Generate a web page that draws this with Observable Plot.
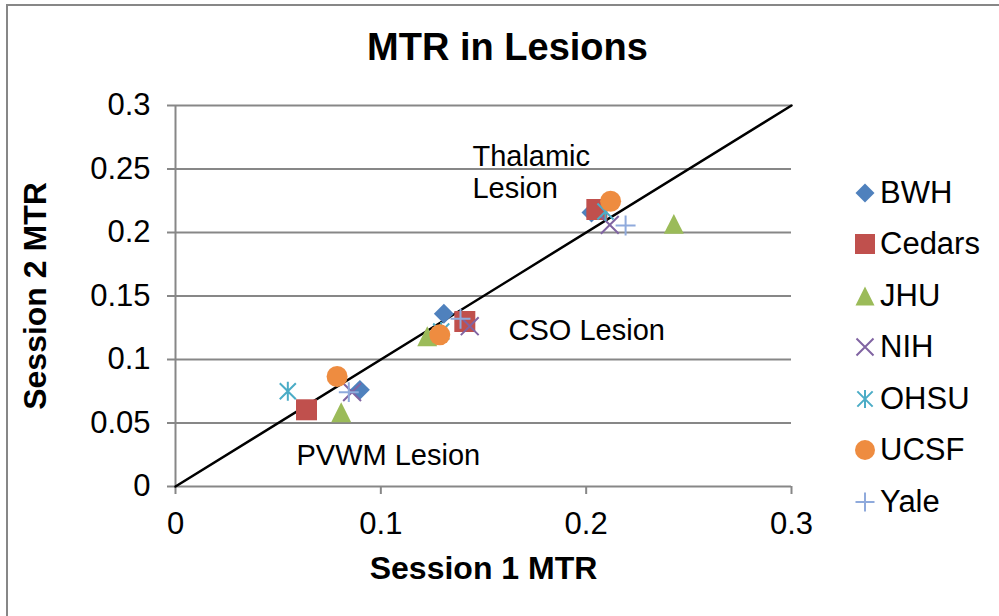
<!DOCTYPE html>
<html>
<head>
<meta charset="utf-8">
<script src="https://cdn.jsdelivr.net/npm/d3@7"></script>
<script src="https://cdn.jsdelivr.net/npm/@observablehq/plot@0.6"></script>
<style>
  html, body { margin: 0; padding: 0; background: #fff; overflow: hidden; }
  #wrap { position: relative; width: 999px; height: 616px; overflow: hidden; font-family: "Liberation Sans", Arial, sans-serif; }
  #frame { position: absolute; left: 6px; top: 4px; width: 1200px; height: 800px; border-top: 2px solid #878787; border-left: 2px solid #878787; }
  #chart { position: absolute; left: 0; top: 0; }
  #legend { position: absolute; left: 853px; top: 167px; }
  .row { display: flex; align-items: center; height: 51.5px; font-size: 31px; color: #000; }
  .row svg { width: 24px; height: 24px; margin-right: 3px; }
</style>
</head>
<body>
<div id="wrap">
  <div id="frame"></div>
  <div id="chart"></div>
  <div id="legend"></div>
</div>
<script>
// ---- Data ----
const sites = ["BWH", "Cedars", "JHU", "NIH", "OHSU", "UCSF", "Yale"];
const lesions = ["PVWM", "CSO", "Thalamic"];
const BWH_s1 = [0.0898, 0.1307, 0.2026];
const BWH_s2 = [0.0761, 0.1360, 0.2157];
const Cedars_s1 = [0.0638, 0.1409, 0.2052];
const Cedars_s2 = [0.0604, 0.1299, 0.2181];
const JHU_s1 = [0.0807, 0.1226, 0.2427];
const JHU_s2 = [0.0585, 0.1183, 0.2068];
const NIH_s1 = [0.0860, 0.1433, 0.2115];
const NIH_s2 = [0.0743, 0.1262, 0.2060];
const OHSU_s1 = [0.0547, 0.1294, 0.2094];
const OHSU_s2 = [0.0750, 0.1220, 0.2165];
const UCSF_s1 = [0.0787, 0.1287, 0.2119];
const UCSF_s2 = [0.0866, 0.1194, 0.2246];
const Yale_s1 = [0.0844, 0.1388, 0.2192];
const Yale_s2 = [0.0743, 0.1320, 0.2055];
const xTicks = [0, 0.1, 0.2, 0.3];
const yTicks = [0, 0.05, 0.1, 0.15, 0.2, 0.25, 0.3];
const identityLine = [0, 0.3];
const annotationText = ["Thalamic\nLesion", "CSO Lesion", "PVWM Lesion"];
const annotationX = [0.1446, 0.1622, 0.0589];
const annotationY = [0.2480, 0.1236, 0.0252];
const colors = ["#4F81BD", "#C0504D", "#9BBB59", "#8064A2", "#4BACC6", "#EE8C40", "#8FAADC"];

// ---- Marker shapes (Excel-like) ----
const diamond = {draw(c, size) { const s = Math.sqrt(size) / 2 * 0.95; c.moveTo(0, -s); c.lineTo(s, 0); c.lineTo(0, s); c.lineTo(-s, 0); c.closePath(); }};
const square = {draw(c, size) { const s = Math.sqrt(size) / 2; c.rect(-s, -s, 2 * s, 2 * s); }};
const triangle = {draw(c, size) { const s = Math.sqrt(size) / 2 * 0.95; c.moveTo(0, -s); c.lineTo(s, s); c.lineTo(-s, s); c.closePath(); }};
const times = {draw(c, size) { const s = Math.sqrt(size) / 2 * 0.85; c.moveTo(-s, -s); c.lineTo(s, s); c.moveTo(-s, s); c.lineTo(s, -s); }};
const asterisk = {draw(c, size) { const s = Math.sqrt(size) / 2 * 0.9; const d = s * 0.85; c.moveTo(0, -s); c.lineTo(0, s); c.moveTo(-d, -d); c.lineTo(d, d); c.moveTo(-d, d); c.lineTo(d, -d); }};
const circle = {draw(c, size) { const s = Math.sqrt(size) / 2; c.moveTo(s, 0); c.arc(0, 0, s, 0, 2 * Math.PI); }};
const plus = {draw(c, size) { const s = Math.sqrt(size) / 2 * 0.95; c.moveTo(-s, 0); c.lineTo(s, 0); c.moveTo(0, -s); c.lineTo(0, s); }};
const symbols = [diamond, square, triangle, times, asterisk, circle, plus];
const filled = [true, true, true, false, false, true, false];

const s1 = [BWH_s1, Cedars_s1, JHU_s1, NIH_s1, OHSU_s1, UCSF_s1, Yale_s1];
const s2 = [BWH_s2, Cedars_s2, JHU_s2, NIH_s2, OHSU_s2, UCSF_s2, Yale_s2];
const R = 21 / Math.sqrt(Math.PI);
const gray = "#878787";

const dotMarks = sites.map((site, i) => {
  const rows = lesions.map((l, j) => ({site, lesion: l, x: s1[i][j], y: s2[i][j]}));
  return filled[i]
    ? Plot.dot(rows, {x: "x", y: "y", symbol: symbols[i], r: R, fill: colors[i], stroke: "none"})
    : Plot.dot(rows, {x: "x", y: "y", symbol: symbols[i], r: R, fill: "none", stroke: colors[i], strokeWidth: 2});
});

const annotations = annotationText.map((t, i) => ({t, x: annotationX[i], y: annotationY[i]}));

const chart = Plot.plot({
  width: 999,
  height: 616,
  marginLeft: 175,
  marginRight: 208,
  marginTop: 105,
  marginBottom: 130,
  x: {domain: [0, 0.3]},
  y: {domain: [0, 0.3]},
  style: {fontFamily: "'Liberation Sans', Arial, sans-serif", fontSize: "31px", color: "#000", background: "transparent", overflow: "visible"},
  marks: [
    Plot.gridY(yTicks.slice(1), {stroke: gray, strokeOpacity: 1, strokeWidth: 2}),
    Plot.ruleX([0], {stroke: gray, strokeWidth: 2}),
    Plot.ruleY([0], {stroke: gray, strokeWidth: 2}),
    Plot.axisY({ticks: yTicks, tickSize: 8, tickPadding: 17, stroke: gray, strokeWidth: 2, fill: "#000", fontSize: 31, label: null, tickFormat: d => String(d)}),
    Plot.axisX({ticks: xTicks, tickSize: 8, tickPadding: 17, stroke: gray, strokeWidth: 2, fill: "#000", fontSize: 31, label: null, tickFormat: d => String(d)}),
    Plot.line(identityLine, {x: d => d, y: d => d, stroke: "#000", strokeWidth: 2.5}),
    ...dotMarks,
    Plot.text(annotations, {x: "x", y: "y", text: "t", textAnchor: "start", lineAnchor: "middle", lineHeight: 1.1, fontSize: 29, fill: "#000"}),
    Plot.text(["MTR in Lesions"], {frameAnchor: "top", dx: 24, dy: -58, lineAnchor: "middle", fontSize: 38, fontWeight: "bold", fill: "#000"}),
    Plot.text(["Session 1 MTR"], {frameAnchor: "bottom", dy: 82, lineAnchor: "middle", fontSize: 32, fontWeight: "bold", fill: "#000"}),
    Plot.text(["Session 2 MTR"], {frameAnchor: "left", dx: -140, rotate: -90, textAnchor: "middle", lineAnchor: "middle", fontSize: 32, fontWeight: "bold", fill: "#000"})
  ]
});
document.getElementById("chart").appendChild(chart);

// ---- Legend ----
const legend = d3.select("#legend");
sites.forEach((site, i) => {
  const row = legend.append("div").attr("class", "row");
  const svg = row.append("svg").attr("viewBox", "-12 -12 24 24");
  const p = svg.append("path").attr("d", d3.symbol().type(symbols[i]).size(400)());
  if (filled[i]) p.attr("fill", colors[i]);
  else p.attr("fill", "none").attr("stroke", colors[i]).attr("stroke-width", 2);
  row.append("span").text(site);
});
</script>
</body>
</html>
